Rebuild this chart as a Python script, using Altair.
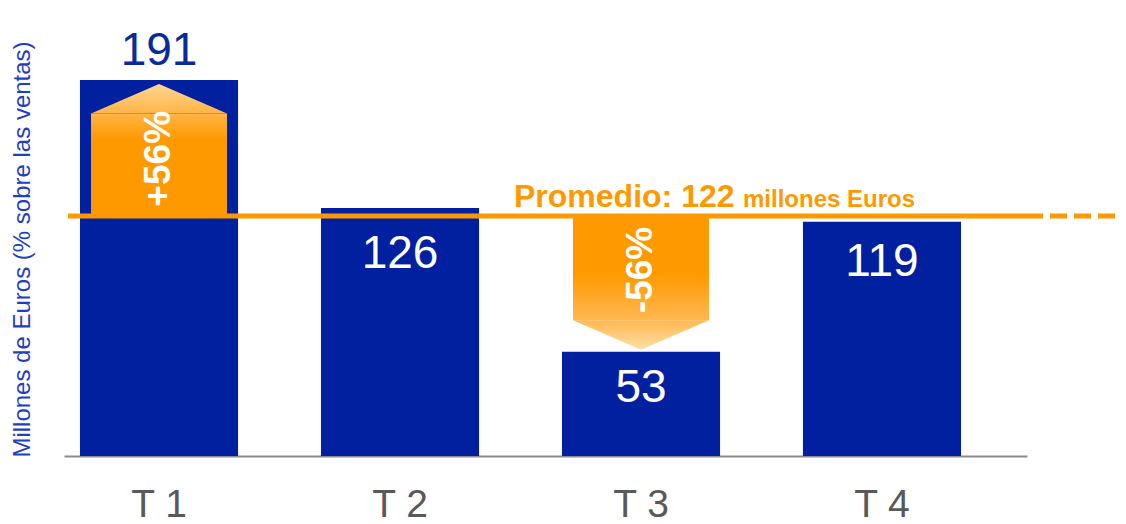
import altair as alt
import pandas as pd

# ---- data ----
quarters = ["T 1", "T 2", "T 3", "T 4"]
values = [191, 126, 53, 119]
label_pos = [206, 102.5, 34.5, 98.5]          # where each value label sits
label_colors = ["#0a2a9a", "#ffffff", "#ffffff", "#ffffff"]
average = 122

arrow_quarters = ["T 1", "T 3"]
arrow_direction = ["up", "down"]
arrow_shoulder = [174, 69]
arrow_tip = [189, 54]
pct_labels = ["+56%", "-56%"]
pct_pos = [151, 94.5]

# ---- styling ----
FONT = "Liberation Sans"
BLUE = "#0020a0"
ORANGE = "#ff9900"
H = 433
W = 963
Y_MAX = 220
PPU = H / Y_MAX

bars_df = pd.DataFrame({"q": quarters, "v": values, "lp": label_pos, "lc": label_colors})
arrows_df = pd.DataFrame({
    "q": arrow_quarters, "dir": arrow_direction, "base": [average] * 2,
    "sh": arrow_shoulder, "tip": arrow_tip, "pct": pct_labels, "pp": pct_pos,
})
avg_df = pd.DataFrame({"avg": [average], "t1": [f"Promedio: {average}"], "t2": ["millones Euros"]})

xs = alt.Scale(domain=quarters, paddingInner=0.344, paddingOuter=0.17, align=0.195)
ys = alt.Scale(domain=[0, Y_MAX], nice=False, zero=True)

X = alt.X("q:N", scale=xs, sort=quarters, title=None,
          axis=alt.Axis(title=None, labelFontSize=39, labelFont=FONT, labelColor="#595959",
                        ticks=False, domainColor="#8c8c8c", domainWidth=2, labelPadding=29,
                        labelAngle=0, grid=False))
Xn = alt.X("q:N", scale=xs, sort=quarters)

def Yn(field):
    return alt.Y(field, scale=ys)

bars = alt.Chart(bars_df).mark_bar(color=BLUE).encode(
    x=X,
    y=alt.Y("v:Q", scale=ys, title="Millones de Euros (% sobre las ventas)", axis=alt.Axis(
        title="Millones de Euros (% sobre las ventas)", labels=False, ticks=False,
        domain=False, grid=False, titleFontSize=24, titleFont=FONT, titleColor="#1f3fbf",
        titleFontWeight="normal", titleX=-42, titleY=226, titleAngle=270,
        titleAlign="center", titleBaseline="middle")),
)

avg_line = alt.Chart(avg_df).mark_rule(color=ORANGE, strokeWidth=5).encode(
    y=Yn("avg:Q"), x=alt.value(4), x2=alt.value(966))
avg_dash = alt.Chart(avg_df).mark_rule(color=ORANGE, strokeWidth=5, strokeDash=[17, 7],
                                       strokeDashOffset=4).encode(
    y=Yn("avg:Q"), x=alt.value(966), x2=alt.value(1070))

def grad(stops):
    return alt.LinearGradient(gradient="linear", x1=0, y1=0, x2=0, y2=1,
                              stops=[alt.GradientStop(offset=o, color=c) for o, c in stops])

# arrow bodies
body_up = alt.Chart(arrows_df).transform_filter("datum.dir == 'up'").mark_bar(
    width=136, fill=grad([(0, "#ffb547"), (0.25, ORANGE), (1, ORANGE)])).encode(
    x=Xn, y=Yn("base:Q"), y2="sh:Q")
body_down = alt.Chart(arrows_df).transform_filter("datum.dir == 'down'").mark_bar(
    width=136, fill=grad([(0, ORANGE), (0.55, ORANGE), (1, "#ffb850")])).encode(
    x=Xn, y=Yn("base:Q"), y2="sh:Q")

# arrow heads (triangle symbols, 136 px wide, height from shoulder to tip)
hu = (arrow_tip[0] - arrow_shoulder[0]) * PPU / 68
hd = (arrow_shoulder[1] - arrow_tip[1]) * PPU / 68
head_up = alt.Chart(arrows_df).transform_filter("datum.dir == 'up'").mark_point(
    shape=f"M-1,0L0,{-hu:.3f}L1,0Z", size=136 * 136, filled=True, opacity=1, strokeWidth=0,
    fill=grad([(0, "#ffd690"), (1, "#ffb547")])).encode(
    x=Xn, y=Yn("sh:Q"))
head_down = alt.Chart(arrows_df).transform_filter("datum.dir == 'down'").mark_point(
    shape=f"M-1,0L0,{hd:.3f}L1,0Z", size=136 * 136, filled=True, opacity=1, strokeWidth=0,
    fill=grad([(0, "#ffb850"), (1, "#ffe0a8")])).encode(
    x=Xn, y=Yn("sh:Q"))

pct_text = alt.Chart(arrows_df).mark_text(
    angle=270, font=FONT, fontSize=37, fontWeight="bold", color="white",
    align="center", baseline="middle").encode(
    x=Xn, y=Yn("pp:Q"), text="pct:N")

val_text = alt.Chart(bars_df).mark_text(
    font=FONT, fontSize=46, align="center", baseline="middle").encode(
    x=Xn, y=Yn("lp:Q"), text="v:Q",
    color=alt.Color("lc:N", scale=None))

prom1 = alt.Chart(avg_df).mark_text(
    font=FONT, fontSize=32, fontWeight="bold", color=ORANGE, align="left",
    baseline="alphabetic", dy=-9).encode(
    x=alt.value(450), y=Yn("avg:Q"), text="t1:N")
prom2 = alt.Chart(avg_df).mark_text(
    font=FONT, fontSize=24, fontWeight="bold", color=ORANGE, align="left",
    baseline="alphabetic", dy=-9).encode(
    x=alt.value(679), y=Yn("avg:Q"), text="t2:N")

chart = alt.layer(
    bars, avg_line, avg_dash, body_up, head_up, body_down, head_down,
    pct_text, val_text, prom1, prom2,
).properties(
    width=W, height=H,
    autosize=alt.AutoSizeParams(type="none"),
    padding={"left": 56, "top": 15, "right": 91, "bottom": 68},
    background="white",
).configure_view(stroke=None)

chart.save("out.html", embed_options={"renderer": "svg", "actions": False})
